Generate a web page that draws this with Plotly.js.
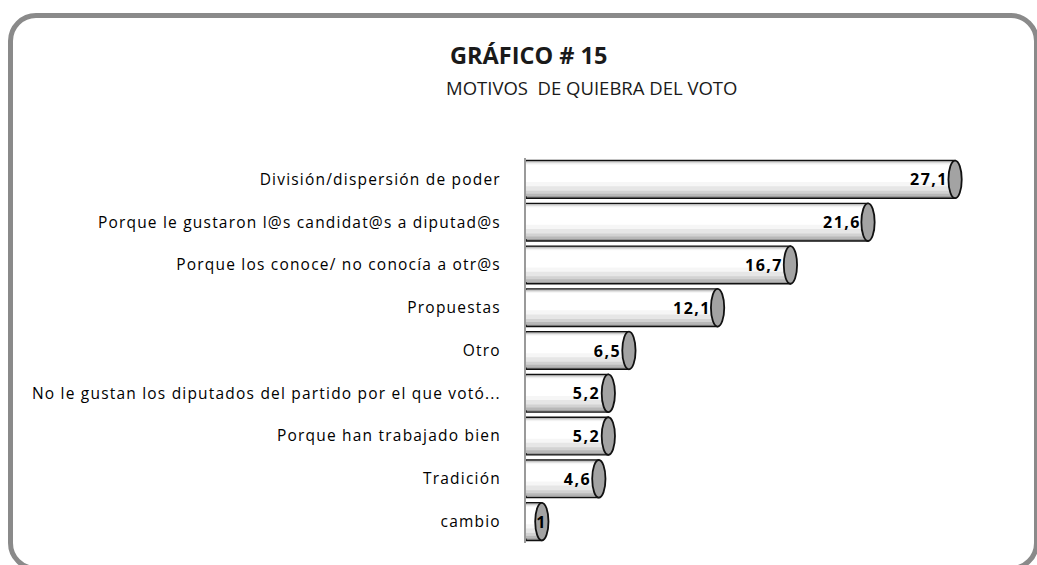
<!DOCTYPE html>
<html><head><meta charset="utf-8">
<script src="https://cdn.plot.ly/plotly-3.0.1.min.js"></script>
<style>
html,body{margin:0;padding:0;background:#fff;}
#wrap{position:relative;width:1037px;height:565px;overflow:hidden;}
#chart{position:absolute;left:0;top:0;width:1037px;height:565px;}
#frame{position:absolute;left:8px;top:13px;width:1021px;height:548px;border:5px solid #8a8a8a;border-radius:28px;pointer-events:none;}
#chart .ytick text{letter-spacing:1.2px;}
#chart .annotation-text.val{letter-spacing:1.5px;}
</style></head>
<body><div id="wrap"><div id="chart"></div><div id="frame"></div></div>
<script>
const categories = [
  "División/dispersión de poder",
  "Porque le gustaron l@s candidat@s a diputad@s",
  "Porque los conoce/ no conocía a otr@s",
  "Propuestas",
  "Otro",
  "No le gustan los diputados del partido por el que votó...",
  "Porque han trabajado bien",
  "Tradición",
  "cambio"
];
const values = [27.1, 21.6, 16.7, 12.1, 6.5, 5.2, 5.2, 4.6, 1];
const valueLabels = values.map(v => String(v).replace('.', ','));
const titleLines = ["GRÁFICO # 15", "MOTIVOS  DE QUIEBRA DEL VOTO"];

const FONT = "'Open Sans', sans-serif";
const W = 0.88;

// cylinder shading: stacked overlay bars, lighter and narrower toward the top
const bands = [
  [1.00, 0.00, '#969696'],
  [0.93, 0.02, '#b8b8b8'],
  [0.84, 0.04, '#d2d2d2'],
  [0.74, 0.06, '#e6e6e6'],
  [0.60, 0.08, '#f6f6f6'],
  [0.46, 0.11, '#ffffff']
];
const traces = bands.map((b, k) => ({
  type: 'bar', orientation: 'h', x: values, y: categories,
  width: categories.map(() => W * b[0]),
  offset: categories.map(() => -W / 2 + W * b[1]),
  marker: {color: b[2], line: {color: '#111', width: k === 0 ? 1.4 : 0}},
  hoverinfo: 'skip', showlegend: false
}));

const capW = 0.42;
const shapes = values.map((v, i) => ({
  type: 'circle', xref: 'x', yref: 'y',
  x0: v - capW, x1: v + capW, y0: i - W / 2, y1: i + W / 2,
  fillcolor: '#a3a3a3', line: {color: '#111', width: 1.8}, layer: 'above'
}));

const annotations = values.map((v, i) => ({
  x: v, y: categories[i], xref: 'x', yref: 'y',
  text: valueLabels[i], showarrow: false, xanchor: 'right', yanchor: 'middle',
  xshift: v < 2 ? 6 : -8, yshift: 0,
  font: {family: FONT, size: 16, color: '#000', weight: 'bold'}
}));
annotations.push({
  xref: 'paper', yref: 'paper', x: -0.164, y: 1.268, xanchor: 'left', yanchor: 'middle',
  text: titleLines[0], showarrow: false,
  font: {family: FONT, size: 23.5, color: '#1a1a1a', weight: 'bold'}
});
annotations.push({
  xref: 'paper', yref: 'paper', x: -0.172, y: 1.182, xanchor: 'left', yanchor: 'middle',
  text: titleLines[1], showarrow: false,
  font: {family: FONT, size: 18.5, color: '#1a1a1a'}
});

const layout = {
  width: 1037, height: 565,
  paper_bgcolor: 'rgba(0,0,0,0)', plot_bgcolor: 'rgba(0,0,0,0)',
  margin: {l: 526, r: 36, t: 158, b: 22},
  barmode: 'overlay',
  xaxis: {range: [0, 30], visible: false, showgrid: false, zeroline: false, fixedrange: true},
  yaxis: {
    type: 'category', autorange: false, range: [8.5, -0.5],
    showgrid: false, zeroline: false, ticks: '',
    showline: true, linecolor: '#9a9a9a', linewidth: 2,
    ticklabelstandoff: 20,
    tickfont: {family: FONT, size: 15.5, color: '#000'}
  },
  shapes: shapes,
  annotations: annotations,
  font: {family: FONT}
};

Plotly.newPlot('chart', traces, layout, {displayModeBar: false, staticPlot: true}).then(() => {
  document.querySelectorAll('#chart .annotation-text').forEach((el, i) => {
    if (i < values.length) el.classList.add('val');
  });
});
</script></body></html>
